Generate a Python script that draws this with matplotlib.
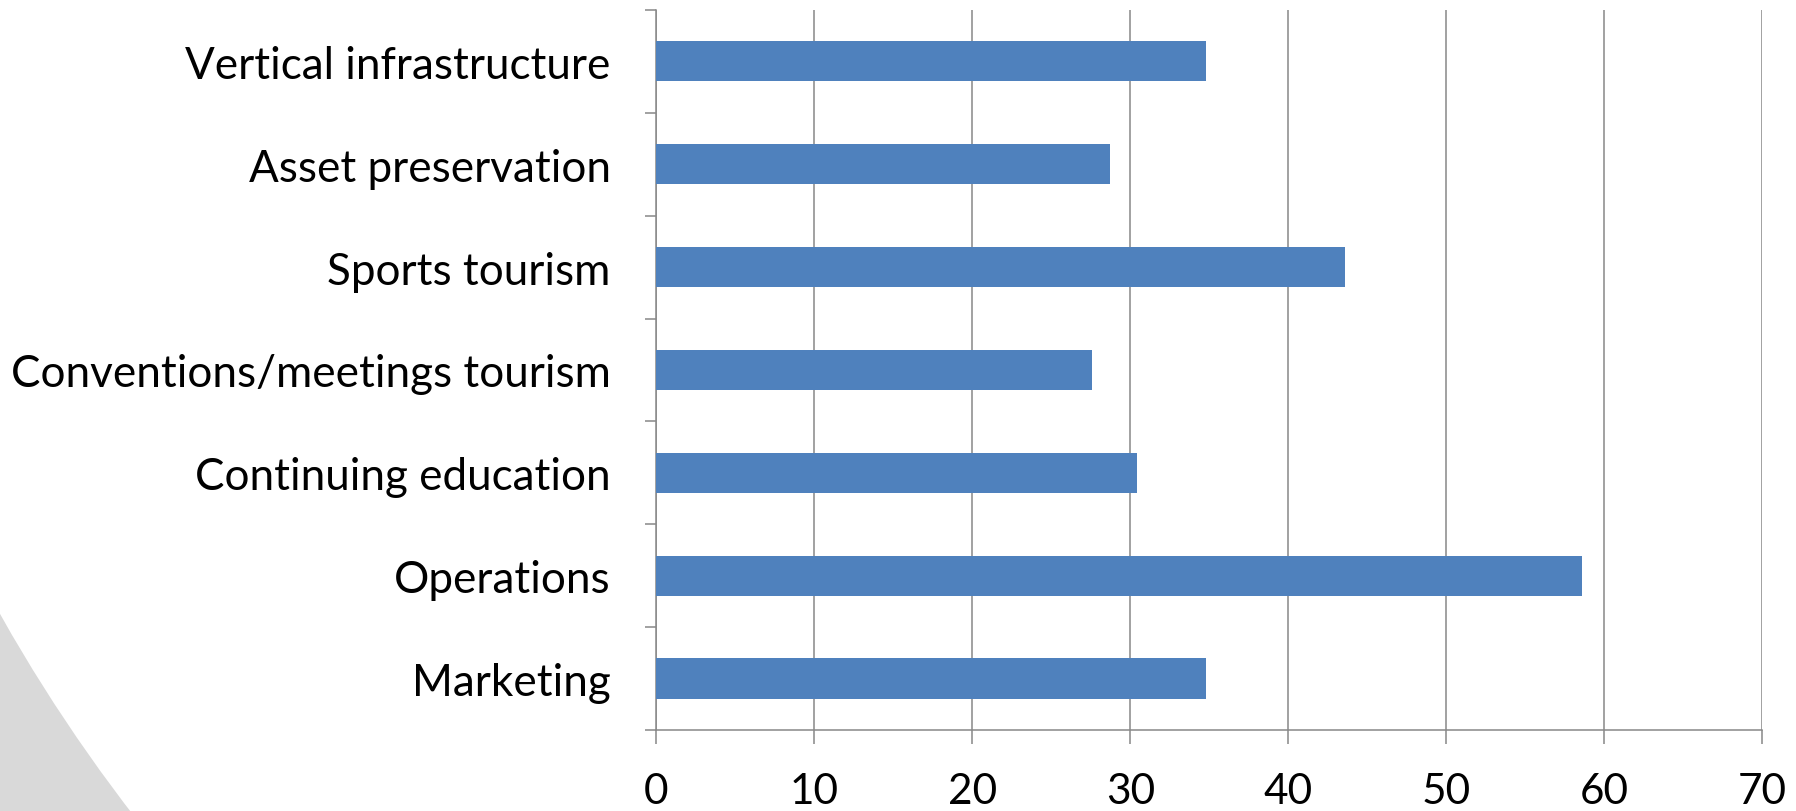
import numpy as np
import matplotlib
matplotlib.use('Agg')
import matplotlib.pyplot as plt
from matplotlib.patches import Circle
from matplotlib.transforms import IdentityTransform

# Categories, bottom to top
categories = ['Marketing', 'Operations', 'Continuing education',
              'Conventions/meetings tourism', 'Sports tourism',
              'Asset preservation', 'Vertical infrastructure']
values = [34.8, 58.6, 30.4, 27.6, 43.6, 28.7, 34.8]
x_ticks = [0, 10, 20, 30, 40, 50, 60, 70]

plt.rcParams['font.family'] = ['Lato', 'DejaVu Sans']

fig = plt.figure(figsize=(17.96, 8.12), dpi=100, facecolor='#d9d9d9')

# white slide background: big circle, only the bottom-left corner stays grey
fig.add_artist(Circle((1445, 1010), 1658, transform=IdentityTransform(),
                      facecolor='white', edgecolor='none', zorder=-10))

ax = fig.add_axes([0.3655, 0.0998, 0.6156, 0.8867])
ax.set_facecolor('none')

y = np.arange(len(categories))
ax.barh(y, values, height=0.39, color='#4f81bd', zorder=3)

grid_col = '#888888'
ax.set_xlim(0, 70)
ax.set_ylim(-0.5, len(categories) - 0.5)
ax.set_xticks(x_ticks)
ax.set_xticklabels([str(t) for t in x_ticks], fontsize=30.5)
ax.xaxis.grid(True, color=grid_col, linewidth=1.1, zorder=0)
ax.tick_params(axis='x', length=10, width=1.1, color=grid_col, pad=20)

ax.set_yticks(y)
ax.set_yticklabels(categories, fontsize=31.7)
ax.set_yticks(np.arange(len(categories) + 1) - 0.5, minor=True)
ax.tick_params(axis='y', which='major', length=0, pad=33)
ax.tick_params(axis='y', which='minor', length=8, width=1.1, color=grid_col)

for side in ['top', 'right']:
    ax.spines[side].set_visible(False)
for side in ['left', 'bottom']:
    ax.spines[side].set_color(grid_col)
    ax.spines[side].set_linewidth(1.1)

fig.savefig('out.png', dpi=100, facecolor=fig.get_facecolor())
